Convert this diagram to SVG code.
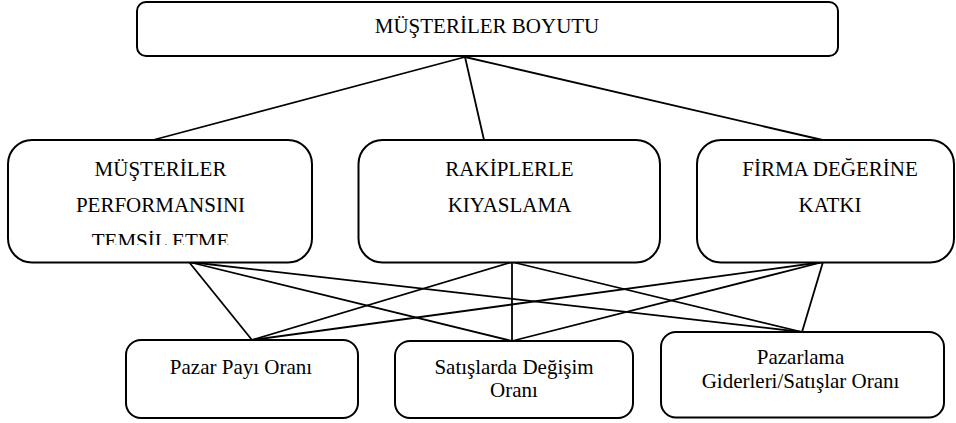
<svg xmlns="http://www.w3.org/2000/svg" width="956" height="423" viewBox="0 0 956 423">
<style>
.box{fill:#fff;stroke:#000;stroke-width:2}
.t{font-family:'Liberation Serif','Times New Roman','DejaVu Serif',serif;font-size:21px;fill:#000;text-anchor:middle}
.c line{stroke:#000;stroke-width:1.8}
</style>
<defs>
<clipPath id="clipL"><rect x="0" y="0" width="330" height="245"/></clipPath>
</defs>
<rect width="956" height="423" fill="#fff"/>
<g class="c" id="connectors">
<line x1="465" y1="57" x2="153" y2="140"/>
<line x1="465" y1="57" x2="484" y2="140"/>
<line x1="465" y1="57" x2="822.5" y2="140"/>
<line x1="189" y1="262" x2="252" y2="340"/>
<line x1="189" y1="262" x2="512" y2="341"/>
<line x1="189" y1="262" x2="802" y2="332"/>
<line x1="512" y1="262" x2="252" y2="340"/>
<line x1="512" y1="262" x2="512" y2="341"/>
<line x1="512" y1="262" x2="802" y2="332"/>
<line x1="823" y1="262" x2="252" y2="340"/>
<line x1="823" y1="262" x2="512" y2="341"/>
<line x1="823" y1="262" x2="802" y2="332"/>
</g>
<g id="top">
<rect class="box" x="137" y="2" width="701" height="54" rx="9"/>
<text class="t" font-family="Liberation Serif, serif" x="487" y="33">MÜŞTERİLER BOYUTU</text>
</g>
<g id="n1">
<rect class="box" x="8" y="140" width="304" height="122.5" rx="24"/>
<text class="t" x="160.5" y="176">MÜŞTERİLER</text>
<text class="t" x="160.5" y="212">PERFORMANSINI</text>
<text class="t" x="160.5" y="248" clip-path="url(#clipL)">TEMSİL ETME</text>
</g>
<g id="n2">
<rect class="box" x="358.5" y="140" width="301.5" height="122.5" rx="24"/>
<text class="t" x="509.5" y="176">RAKİPLERLE</text>
<text class="t" x="509.5" y="212">KIYASLAMA</text>
</g>
<g id="n3">
<rect class="box" x="697" y="140" width="257" height="122.5" rx="24"/>
<text class="t" x="830" y="176">FİRMA DEĞERİNE</text>
<text class="t" x="830" y="212">KATKI</text>
</g>
<g id="b1">
<rect class="box" x="126" y="340" width="232" height="78" rx="15"/>
<text class="t" x="241" y="374">Pazar Payı Oranı</text>
</g>
<g id="b2">
<rect class="box" x="395" y="341" width="238" height="77" rx="15"/>
<text class="t" x="514" y="374">Satışlarda Değişim</text>
<text class="t" x="514" y="397">Oranı</text>
</g>
<g id="b3">
<rect class="box" x="661" y="332" width="283" height="85.5" rx="15"/>
<text class="t" x="800.5" y="364">Pazarlama</text>
<text class="t" x="800.5" y="388">Giderleri/Satışlar Oranı</text>
</g>
</svg>
